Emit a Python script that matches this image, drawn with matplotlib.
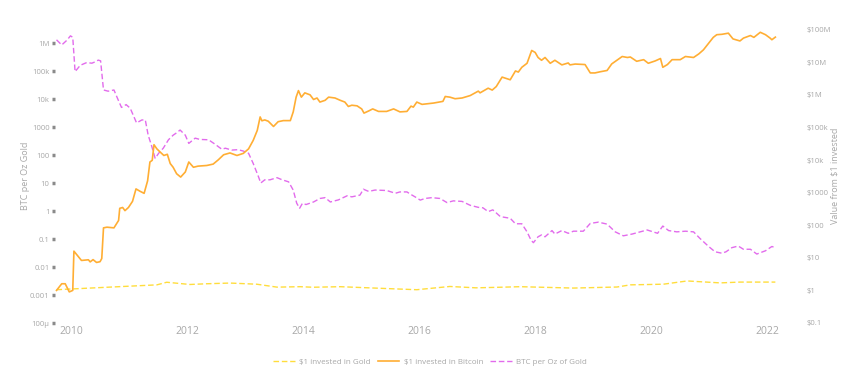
import matplotlib
matplotlib.use("Agg")
import matplotlib.pyplot as plt
import matplotlib.ticker as mticker
import numpy as np

plt.rcParams['font.family'] = ['Open Sans', 'DejaVu Sans']

# $1 invested in Bitcoin (right axis)
btc_years = [2009.75, 2009.84, 2009.90, 2009.97, 2010.03, 2010.05, 2010.18, 2010.30, 2010.33, 2010.38,
             2010.44, 2010.50, 2010.53, 2010.56, 2010.62, 2010.74, 2010.82, 2010.84, 2010.89, 2010.93,
             2010.99, 2011.06, 2011.12, 2011.19, 2011.26, 2011.32, 2011.36, 2011.40, 2011.43, 2011.48,
             2011.53, 2011.60, 2011.66, 2011.71, 2011.76, 2011.82, 2011.89, 2011.97, 2012.03, 2012.11,
             2012.19, 2012.34, 2012.45, 2012.54, 2012.63, 2012.74, 2012.86, 2012.97, 2013.06, 2013.14,
             2013.21, 2013.26, 2013.29, 2013.34, 2013.40, 2013.49, 2013.57, 2013.66, 2013.78, 2013.83,
             2013.88, 2013.92, 2013.97, 2014.03, 2014.12, 2014.18, 2014.24, 2014.29, 2014.38, 2014.44,
             2014.55, 2014.64, 2014.72, 2014.78, 2014.84, 2014.93, 2015.01, 2015.05, 2015.13, 2015.20,
             2015.30, 2015.44, 2015.56, 2015.67, 2015.79, 2015.86, 2015.90, 2015.96, 2016.05, 2016.13,
             2016.25, 2016.41, 2016.45, 2016.53, 2016.62, 2016.74, 2016.88, 2017.02, 2017.05, 2017.19,
             2017.26, 2017.33, 2017.43, 2017.57, 2017.66, 2017.71, 2017.77, 2017.86, 2017.94, 2018.00,
             2018.05, 2018.11, 2018.17, 2018.26, 2018.34, 2018.46, 2018.57, 2018.60, 2018.69, 2018.86,
             2018.95, 2019.03, 2019.12, 2019.24, 2019.32, 2019.41, 2019.50, 2019.59, 2019.64, 2019.75,
             2019.87, 2019.95, 2020.07, 2020.16, 2020.20, 2020.28, 2020.36, 2020.50, 2020.59, 2020.73,
             2020.82, 2020.90, 2021.02, 2021.07, 2021.13, 2021.22, 2021.33, 2021.41, 2021.53, 2021.59,
             2021.71, 2021.77, 2021.88, 2021.97, 2022.05, 2022.08, 2022.14]
btc_value = [1.0, 1.6, 1.6, 0.9, 1.0, 16, 8.3, 8.7, 7.5, 8.8,
             7.2, 7.6, 9.5, 83, 87, 83, 140, 330, 350, 280,
             350, 540, 1300, 1100, 950, 2300, 8700, 9800, 29500, 22000,
             18000, 13800, 15000, 7800, 6000, 3800, 3000, 4300, 8700, 6000,
             6500, 6800, 7500, 10200, 14500, 16500, 13800, 16000, 22000, 40000,
             81000, 210000, 160000, 170000, 155000, 107000, 150000, 162000, 162000, 300000,
             850000, 1350000, 850000, 1150000, 1000000, 720000, 800000, 600000, 680000, 850000,
             800000, 680000, 600000, 440000, 480000, 460000, 370000, 275000, 320000, 370000,
             310000, 310000, 370000, 300000, 310000, 450000, 420000, 600000, 510000, 530000,
             560000, 630000, 890000, 850000, 760000, 800000, 950000, 1300000, 1150000, 1600000,
             1400000, 1800000, 3500000, 2900000, 5400000, 5000000, 7000000, 9300000, 23000000, 20000000,
             14000000, 11500000, 14000000, 9300000, 11500000, 8300000, 9500000, 8300000, 8800000, 8500000,
             4700000, 4700000, 5100000, 5600000, 8900000, 11500000, 15000000, 14000000, 14500000, 10700000,
             12000000, 9300000, 11000000, 13000000, 7000000, 8500000, 12000000, 12000000, 15000000, 14000000,
             18000000, 24000000, 45000000, 58000000, 70000000, 72000000, 78000000, 52000000, 45000000, 55000000,
             66000000, 58000000, 83000000, 70000000, 55000000, 49000000, 59000000]

# BTC per Oz of Gold (left axis)
ratio_years = [2009.75, 2009.84, 2009.93, 2009.99, 2010.03, 2010.07, 2010.16, 2010.27, 2010.36, 2010.41,
               2010.47, 2010.51, 2010.56, 2010.64, 2010.74, 2010.80, 2010.87, 2010.95, 2011.02, 2011.07,
               2011.13, 2011.22, 2011.28, 2011.33, 2011.39, 2011.45, 2011.51, 2011.59, 2011.68, 2011.76,
               2011.82, 2011.88, 2011.97, 2012.03, 2012.14, 2012.22, 2012.37, 2012.48, 2012.60, 2012.66,
               2012.77, 2012.88, 2012.97, 2013.06, 2013.14, 2013.23, 2013.27, 2013.34, 2013.43, 2013.55,
               2013.64, 2013.75, 2013.83, 2013.89, 2013.94, 2013.99, 2014.05, 2014.18, 2014.29, 2014.38,
               2014.47, 2014.61, 2014.76, 2014.84, 2014.98, 2015.04, 2015.13, 2015.24, 2015.44, 2015.59,
               2015.67, 2015.79, 2015.84, 2015.93, 2016.02, 2016.10, 2016.22, 2016.36, 2016.48, 2016.59,
               2016.74, 2016.88, 2017.02, 2017.10, 2017.19, 2017.27, 2017.40, 2017.57, 2017.66, 2017.77,
               2017.86, 2017.93, 2017.97, 2018.05, 2018.11, 2018.17, 2018.29, 2018.34, 2018.46, 2018.57,
               2018.66, 2018.83, 2018.95, 2019.09, 2019.24, 2019.38, 2019.52, 2019.67, 2019.81, 2019.93,
               2020.11, 2020.20, 2020.30, 2020.44, 2020.59, 2020.73, 2020.84, 2020.99, 2021.10, 2021.22,
               2021.29, 2021.39, 2021.50, 2021.59, 2021.71, 2021.82, 2021.97, 2022.08, 2022.14]
ratio_value = [1.3e6, 8.5e5, 1.26e6, 1.8e6, 1.6e6, 95000, 160000, 200000, 190000, 210000,
               245000, 230000, 21000, 19000, 21000, 10700, 5000, 6300, 4700, 2700,
               1400, 1780, 1800, 510, 210, 76, 115, 175, 350, 510,
               620, 780, 510, 260, 400, 360, 350, 245, 160, 175,
               150, 155, 138, 115, 50, 17, 10, 13, 13, 15.5,
               13, 11, 5.6, 1.9, 1.25, 1.9, 1.7, 2.1, 2.8, 3.0,
               2.1, 2.5, 3.5, 3.2, 3.7, 6.0, 5.0, 5.6, 5.4, 4.3,
               4.8, 4.8, 4.1, 3.2, 2.45, 2.8, 3.0, 2.8, 2.0, 2.3,
               2.2, 1.6, 1.35, 1.3, 0.95, 1.1, 0.63, 0.55, 0.35, 0.35,
               0.18, 0.09, 0.074, 0.12, 0.14, 0.12, 0.2, 0.15, 0.2, 0.16,
               0.19, 0.19, 0.36, 0.4, 0.34, 0.18, 0.13, 0.15, 0.18, 0.21,
               0.16, 0.29, 0.2, 0.18, 0.19, 0.18, 0.105, 0.054, 0.035, 0.031,
               0.035, 0.049, 0.056, 0.043, 0.043, 0.029, 0.038, 0.054, 0.049]

# $1 invested in Gold (right axis)
gold_years = [2009.75, 2010.33, 2010.90, 2011.48, 2011.65, 2012.05, 2012.34, 2012.74, 2013.20, 2013.55,
              2013.95, 2014.17, 2014.64, 2015.55, 2015.96, 2016.53, 2016.98, 2017.40, 2017.74, 2018.66,
              2019.41, 2019.64, 2020.21, 2020.62, 2021.19, 2021.53, 2022.14]
gold_value = [1.05, 1.18, 1.32, 1.48, 1.78, 1.52, 1.6, 1.68, 1.55, 1.26,
              1.3, 1.25, 1.3, 1.12, 1.05, 1.32, 1.2, 1.25, 1.3, 1.18,
              1.27, 1.48, 1.55, 1.95, 1.7, 1.8, 1.8]

left_ticks = [1e-4, 1e-3, 1e-2, 1e-1, 1, 10, 100, 1000, 1e4, 1e5, 1e6]
left_labels = ['100µ', '0.001', '0.01', '0.1', '1', '10', '100', '1000', '10k', '100k', '1M']
right_ticks = [0.1, 1, 10, 100, 1000, 1e4, 1e5, 1e6, 1e7, 1e8]
right_labels = ['$0.1', '$1', '$10', '$100', '$1000', '$10k', '$100k', '$1M', '$10M', '$100M']
year_ticks = [2010, 2012, 2014, 2016, 2018, 2020, 2022]

c_gold = '#ffdd3c'
c_btc = '#ffae34'
c_ratio = '#e26bec'
c_text = '#a8a8a8'

fig = plt.figure(figsize=(8.5, 3.76), dpi=100)
ax = fig.add_axes([55/850, 53/376, 725/850, 294/376])
ax2 = ax.twinx()

l3, = ax.plot(ratio_years, ratio_value, color=c_ratio, lw=1.0, ls=(0, (4, 2)))
l1, = ax2.plot(gold_years, gold_value, color=c_gold, lw=1.0, ls=(0, (4, 2)))
l2, = ax2.plot(btc_years, btc_value, color=c_btc, lw=1.2)

ax.set_yscale('log')
ax2.set_yscale('log')
ax.set_ylim(1e-4, 10**6.5)
ax2.set_ylim(0.1, 10**8.02)
ax.set_xlim(2009.724, 2022.22)

ax.set_yticks(left_ticks)
ax.set_yticklabels(left_labels)
ax.yaxis.set_minor_locator(mticker.NullLocator())
ax2.set_yticks(right_ticks)
ax2.set_yticklabels(right_labels)
ax2.yaxis.set_minor_locator(mticker.NullLocator())
ax.set_xticks(year_ticks)
ax.set_xticklabels([str(y) for y in year_ticks])

for a in (ax, ax2):
    for s in a.spines.values():
        s.set_visible(False)

ax.tick_params(axis='y', colors='#8a8a8a', labelcolor=c_text, labelsize=5.5,
               length=2.5, width=2.5, direction='out', pad=1.5)
ax.tick_params(axis='x', length=0, labelcolor=c_text, labelsize=7.5, pad=2)
ax2.tick_params(axis='y', length=0, labelcolor=c_text, labelsize=5.5, pad=19)

ax.set_ylabel('BTC per Oz Gold', color=c_text, fontsize=6.5)
ax.yaxis.set_label_coords(-0.0345, 0.5)
ax2.set_ylabel('Value from $1 invested', color=c_text, fontsize=6.5, rotation=90)
ax2.yaxis.set_label_coords(1.069, 0.5)

fig.legend([l1, l2, l3], ['$1 invested in Gold', '$1 invested in Bitcoin', 'BTC per Oz of Gold'],
           loc='center', bbox_to_anchor=(430/850, 1 - 362/376), ncol=3, frameon=False,
           fontsize=5.8, labelcolor=c_text, handlelength=2.7, handletextpad=0.5, columnspacing=0.9)

fig.savefig('out.png', dpi=100)
